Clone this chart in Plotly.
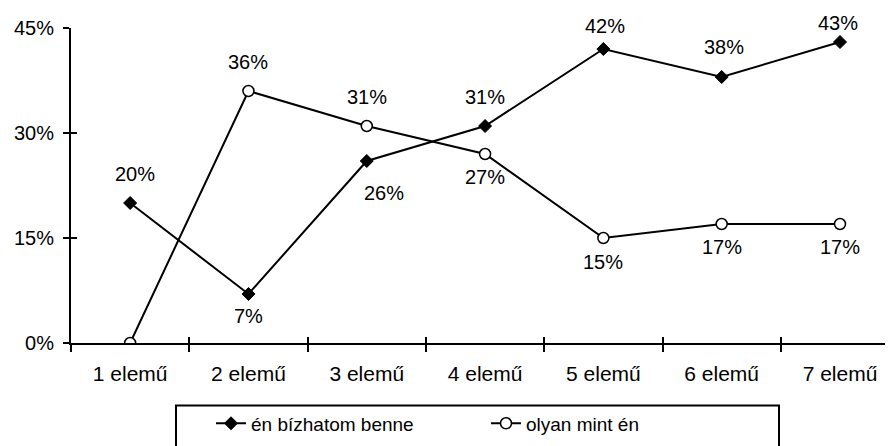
import plotly.graph_objects as go

categories = ["1 elemű", "2 elemű", "3 elemű", "4 elemű", "5 elemű", "6 elemű", "7 elemű"]
bizhatom = [20, 7, 26, 31, 42, 38, 43]
olyan = [0, 36, 31, 27, 15, 17, 17]
y_ticks = [0, 15, 30, 45]
y_tick_labels = ["0%", "15%", "30%", "45%"]

# label placement (style only)
biz_label_shift = [(5, 29), (0, -22), (17, -32), (0, 29), (2, 23), (2, 30), (-2, 19)]
oly_label_shift = [None, (0, 29), (0, 29), (0, -23), (0, -24), (0, -23), (0, -23)]

FONT = "Liberation Sans, Arial, sans-serif"

fig = go.Figure()
fig.add_trace(go.Scatter(
    x=categories, y=bizhatom, mode="lines+markers", name="én bízhatom benne",
    line=dict(color="black", width=2),
    marker=dict(symbol="diamond", size=10, color="black", line=dict(color="black", width=1)),
))
fig.add_trace(go.Scatter(
    x=categories, y=olyan, mode="lines+markers", name="olyan mint én",
    line=dict(color="black", width=2),
    marker=dict(symbol="circle", size=11, color="white", line=dict(color="black", width=1.5)),
))
# overlay axes for the inward half of the crossing ticks
fig.add_trace(go.Scatter(x=[None], y=[None], xaxis="x2", yaxis="y2",
                         showlegend=False, hoverinfo="skip"))

annotations = []
for series, shifts in ((bizhatom, biz_label_shift), (olyan, oly_label_shift)):
    for c, v, s in zip(categories, series, shifts):
        if s is None:
            continue
        annotations.append(dict(x=c, y=v, xref="x", yref="y", text=f"{v}%",
                                showarrow=False, xshift=s[0], yshift=s[1],
                                font=dict(family=FONT, size=20, color="black")))

xr = [-0.5, 6.448]
fig.update_layout(
    width=885, height=438,
    margin=dict(l=63, r=0, t=20, b=103, autoexpand=False),
    paper_bgcolor="white", plot_bgcolor="white",
    font=dict(family=FONT, size=20, color="black"),
    showlegend=True,
    annotations=annotations,
    shapes=[dict(type="rect", xref="paper", yref="paper",
                 x0=(176 - 71) / 822, x1=(779 - 71) / 822,
                 y0=-0.40, y1=(342.7 - 405) / 314.4,
                 line=dict(color="black", width=2), fillcolor="rgba(0,0,0,0)")],
    xaxis=dict(type="category", range=xr, showgrid=False, zeroline=False,
               showline=True, linecolor="black", linewidth=2,
               ticks="outside", tickson="boundaries", ticklen=7, tickwidth=2, tickcolor="black",
               tickfont=dict(family=FONT, size=21), ticklabelstandoff=11),
    yaxis=dict(range=[0, 45], tickvals=y_ticks, ticktext=y_tick_labels,
               showgrid=False, zeroline=False, showline=True, linecolor="black", linewidth=2,
               ticks="outside", ticklen=6, tickwidth=2, tickcolor="black",
               tickfont=dict(family=FONT, size=20), ticklabelstandoff=5),
    xaxis2=dict(overlaying="x", range=xr, tickvals=[i - 0.5 for i in range(8)],
                ticks="inside", ticklen=6, tickwidth=2, tickcolor="black",
                showticklabels=False, showline=False, showgrid=False, zeroline=False),
    yaxis2=dict(overlaying="y", range=[0, 45], tickvals=y_ticks, side="left",
                ticks="inside", ticklen=6, tickwidth=2, tickcolor="black",
                showticklabels=False, showline=False, showgrid=False, zeroline=False),
    legend=dict(orientation="h", x=(211 - 71) / 822, xanchor="left",
                y=(342.7 - 404) / 314.4, yanchor="top",
                borderwidth=0, bgcolor="rgba(0,0,0,0)",
                font=dict(family=FONT, size=19), entrywidth=230, entrywidthmode="pixels",
                itemsizing="trace"),
)

fig.write_html("out.html")
